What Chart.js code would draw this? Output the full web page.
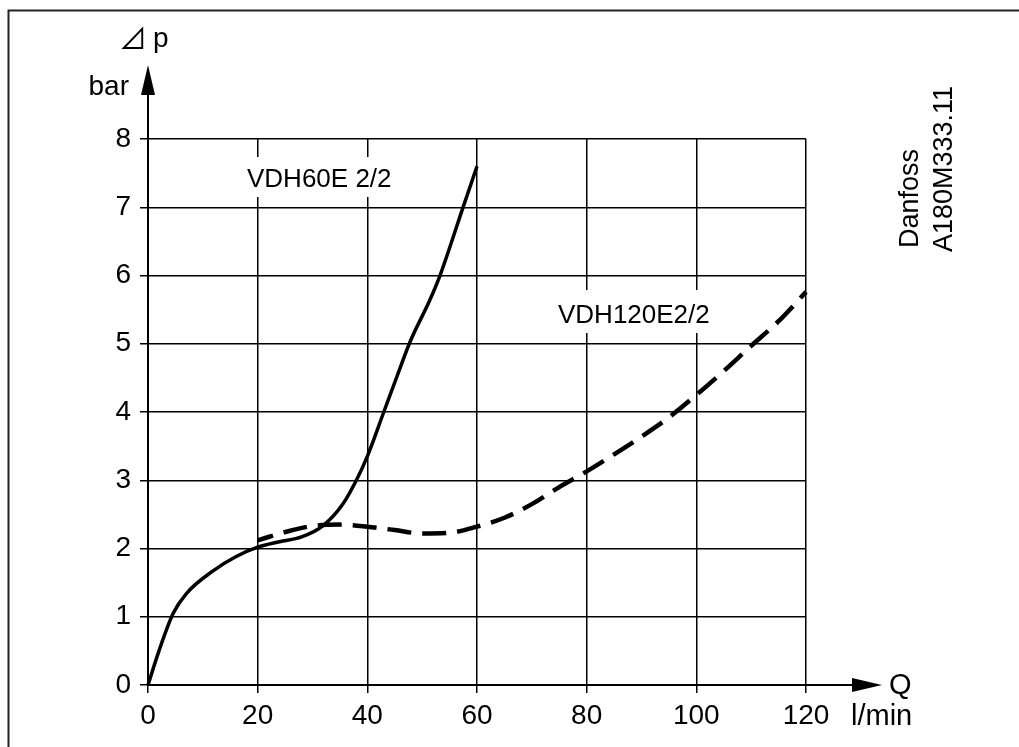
<!DOCTYPE html>
<html>
<head>
<meta charset="utf-8">
<script src="https://cdn.jsdelivr.net/npm/chart.js@4.4.1/dist/chart.umd.min.js"></script>
<style>
  body { margin: 0; background: #fff; }
  canvas { display: block; }
</style>
</head>
<body>
<canvas id="myChart" width="1019" height="747"></canvas>
<script>
// VDH60E 2/2 (solid)
var vdh60Q  = [0, 2, 4.6, 7, 12, 16, 20, 24, 28, 32, 35.6, 38, 40, 43, 45.4, 47.8, 51.4, 53.3, 57.5, 60];
var vdh60Dp = [0, 0.5, 1.05, 1.34, 1.68, 1.88, 2.02, 2.1, 2.17, 2.34, 2.66, 3.0, 3.35, 4.0, 4.52, 5.03, 5.64, 6.01, 7.01, 7.6];
// VDH120E2/2 (dashed)
var vdh120Q  = [20, 25, 30, 35, 40, 45, 50, 55, 60, 65, 70, 75, 80, 85, 90, 95, 100, 105, 110, 115, 120];
var vdh120Dp = [2.12, 2.24, 2.33, 2.35, 2.32, 2.27, 2.22, 2.23, 2.32, 2.45, 2.65, 2.9, 3.13, 3.38, 3.64, 3.92, 4.25, 4.6, 4.97, 5.33, 5.76];
var xTicks = [0, 20, 40, 60, 80, 100, 120];
var yTicks = [0, 1, 2, 3, 4, 5, 6, 7, 8];

var FONT = '"Liberation Sans", Arial, sans-serif';

function toPoints(xs, ys) {
    return xs.map(function (x, i) { return { x: x, y: ys[i] }; });
}

function label(ctx, text, x, y, box) {
    ctx.fillStyle = '#fff';
    ctx.fillRect(box[0], box[1], box[2], box[3]);
    ctx.fillStyle = '#000';
    ctx.fillText(text, x, y);
}

// axis arrows, units, curve labels, frame
var decor = {
    id: 'decor',
    afterDraw: function (chart) {
        var ctx = chart.ctx;
        var xs = chart.scales.x, ys = chart.scales.y;
        var x0 = xs.getPixelForValue(0), y0 = ys.getPixelForValue(0);
        var xEnd = xs.getPixelForValue(120), yTop = ys.getPixelForValue(8);
        ctx.save();
        ctx.strokeStyle = '#000';
        ctx.fillStyle = '#000';
        ctx.lineWidth = 2;
        // axis extensions
        ctx.beginPath();
        ctx.moveTo(x0, yTop); ctx.lineTo(x0, 92);
        ctx.moveTo(xEnd, y0); ctx.lineTo(855, y0);
        ctx.stroke();
        // arrow heads
        ctx.beginPath();
        ctx.moveTo(x0, 65); ctx.lineTo(x0 - 7, 95); ctx.lineTo(x0 + 7, 95); ctx.closePath();
        ctx.fill();
        ctx.beginPath();
        ctx.moveTo(882, y0); ctx.lineTo(852, y0 - 7); ctx.lineTo(852, y0 + 7); ctx.closePath();
        ctx.fill();

        ctx.textBaseline = 'alphabetic';
        ctx.font = '28px ' + FONT;
        ctx.textAlign = 'right';
        ctx.fillText('bar', 129, 95);
        ctx.textAlign = 'left';
        ctx.font = '28px "Noto Sans CJK JP", "DejaVu Sans"';
        ctx.fillText('\u22BF', 119, 49);
        ctx.font = '28px ' + FONT;
        ctx.fillText('p', 153, 47);
        ctx.font = '29px ' + FONT;
        ctx.fillText('Q', 889, 694);
        ctx.fillText('l/min', 851, 725);

        ctx.font = '26px ' + FONT;
        label(ctx, 'VDH60E 2/2', 247, 187, [240, 157, 155, 40]);
        label(ctx, 'VDH120E2/2', 558, 323, [550, 290, 192, 43]);

        // code on the right, rotated
        ctx.font = '27px ' + FONT;
        ctx.save();
        ctx.translate(918, 248);
        ctx.rotate(-Math.PI / 2);
        ctx.fillText('Danfoss', 0, 0);
        ctx.restore();
        ctx.save();
        ctx.translate(952, 252);
        ctx.rotate(-Math.PI / 2);
        ctx.fillText('A180M333.11', 0, 0);
        ctx.restore();

        // frame (top and left)
        ctx.strokeStyle = '#222';
        ctx.lineWidth = 2;
        ctx.beginPath();
        ctx.moveTo(8.5, 747); ctx.lineTo(8.5, 10.5); ctx.lineTo(1019, 10.5);
        ctx.stroke();
        ctx.restore();
    }
};

var ctx = document.getElementById('myChart').getContext('2d');
var myChart = new Chart(ctx, {
    type: 'scatter',
    data: {
        datasets: [{
            label: 'VDH60E 2/2',
            data: toPoints(vdh60Q, vdh60Dp),
            showLine: true,
            borderColor: '#000',
            borderWidth: 3.5,
            pointRadius: 0,
            tension: 0.4,
            cubicInterpolationMode: 'monotone',
            clip: false
        }, {
            label: 'VDH120E2/2',
            data: toPoints(vdh120Q, vdh120Dp),
            showLine: true,
            borderColor: '#000',
            borderWidth: 4.5,
            borderDash: [24, 11],
            borderDashOffset: 8,
            pointRadius: 0,
            tension: 0.4,
            cubicInterpolationMode: 'monotone',
            clip: false
        }]
    },
    options: {
        responsive: false,
        animation: false,
        devicePixelRatio: 1,
        layout: { padding: { top: 139, right: 213, bottom: 0, left: 0 } },
        plugins: { legend: { display: false }, tooltip: { enabled: false } },
        scales: {
            x: {
                type: 'linear',
                min: 0, max: 120,
                afterFit: function (s) { s.height = 62; },
                afterBuildTicks: function (s) { s.ticks = xTicks.map(function (v) { return { value: v }; }); },
                ticks: { color: '#000', padding: 6, maxRotation: 0, font: { family: FONT, size: 28 } },
                grid: { color: '#000', lineWidth: 1.5, tickLength: 8 },
                border: { color: '#000', width: 2 }
            },
            y: {
                type: 'linear',
                min: 0, max: 8,
                afterFit: function (s) { s.width = 148; },
                afterBuildTicks: function (s) { s.ticks = yTicks.map(function (v) { return { value: v }; }); },
                ticks: { color: '#000', padding: 9, font: { family: FONT, size: 28 } },
                grid: { color: '#000', lineWidth: 1.5, tickLength: 8 },
                border: { color: '#000', width: 2 }
            }
        }
    },
    plugins: [decor]
});
</script>
</body>
</html>
